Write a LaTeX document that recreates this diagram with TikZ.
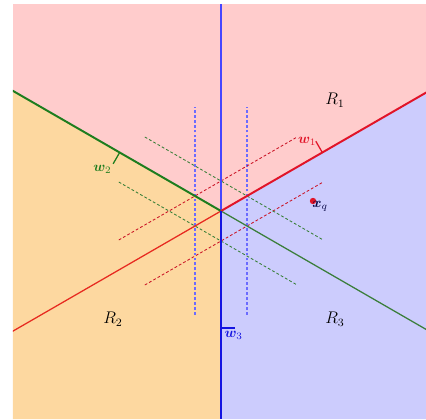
\documentclass[tikz,border=0pt]{standalone}
\usepackage{amsmath,amssymb,bm}
\usepackage{xcolor}
\usepackage{tikz}
\usetikzlibrary{positioning,calc}

\definecolor{regionone}{RGB}{255,204,204}
\definecolor{regiontwo}{RGB}{253,216,160}
\definecolor{regionthree}{RGB}{204,204,253}
\definecolor{greenline}{RGB}{30,125,30}
\definecolor{blueline}{RGB}{20,20,225}
\definecolor{lightblueline}{RGB}{70,70,255}
\definecolor{redline}{RGB}{225,20,40}

\begin{document}
\begin{tikzpicture}[
    x=0.25mm, y=0.25mm,
    boundary/.style={line width=1.4pt},
    halfline/.style={line width=0.9pt},
    offset/.style={dash pattern=on 2pt off 1.5pt, line width=0.6pt},
    normalvec/.style={line width=0.9pt},
    wlabel/.style={inner sep=1pt, font=\normalsize},
    rlabel/.style={font=\large}
]
\useasboundingbox (-221,-208) rectangle (205,211);

% Regionen
\coordinate (O) at (0,0);
\fill[regionone] (-208,-208) rectangle (205,207);
\fill[regiontwo] (O) -- (-208,120.1) -- (-208,-208) -- (0,-208) -- cycle;
\fill[regionthree] (O) -- (205,118.4) -- (205,-208) -- (0,-208) -- cycle;

\begin{scope}
\clip (-208,-208) rectangle (205,207);

% verschobene Geraden
\foreach \s in {-26,26} {
    \draw[offset, line width=0.75pt, lightblueline!80!white] (\s,-103.5) -- (\s,103.5);
    \draw[offset, greenline!75!gray, rotate=-30] (-103,\s) -- (103,\s);
    \draw[offset, redline!90!black, rotate=30] (-103,\s) -- (103,\s);
}

% Trennlinien
\draw[halfline, greenline!70!gray] (O) -- (-30:260);
\draw[halfline, redline!80!orange] (O) -- (210:260);
\draw[halfline, lightblueline] (O) -- (0,207);
\draw[boundary, greenline] (O) -- (150:260);
\draw[boundary, redline] (O) -- (30:260);
\draw[boundary, blueline] (O) -- (0,-208);
\end{scope}

% Normalenvektoren
\coordinate (w1foot) at (30:117);
\coordinate (w1tip) at ($(w1foot)+(120:13)$);
\coordinate (w2foot) at (150:117);
\coordinate (w2tip) at ($(w2foot)+(240:13)$);
\coordinate (w3foot) at (270:117);
\coordinate (w3tip) at ($(w3foot)+(0:14)$);
\draw[normalvec, redline] (w1foot) -- (w1tip);
\draw[normalvec, greenline] (w2foot) -- (w2tip);
\draw[normalvec, blueline] (w3foot) -- (w3tip);

\node[wlabel, redline, anchor=south east] (w1) at ($(w1tip)+(2,-6)$) {$\bm{w}_1$};
\node[wlabel, greenline, below left=0pt of w2tip] (w2) {$\bm{w}_2$};
\node[wlabel, blueline, below=1pt of w3tip, xshift=-1pt] (w3) {$\bm{w}_3$};

% Regionsnamen
\node[rlabel] (R1) at (114,111) {$R_1$};
\node[rlabel] (R2) at (-108,-108) {$R_2$};
\node[rlabel] (R3) at (114,-108) {$R_3$};

% Anfragepunkt
\fill[redline] (92,10) circle (3.2) coordinate (xq);
\node[inner sep=0pt, anchor=north west, text=blueline!30!black] (xqlabel) at ($(xq)+(-1,0)$) {$\bm{x}_q$};

\end{tikzpicture}
\end{document}
